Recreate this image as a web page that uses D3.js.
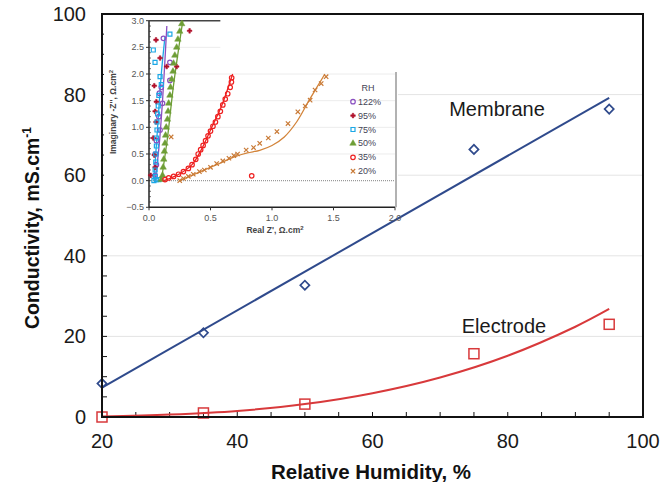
<!DOCTYPE html>
<html><head><meta charset="utf-8">
<script src="https://cdn.jsdelivr.net/npm/d3@7"></script>
<style>body{margin:0;background:#fff}svg{display:block;font-family:"Liberation Sans",Arial,sans-serif}</style>
</head><body><svg id="c" width="672" height="482"></svg>
<script>
// ---------- main chart data ----------
const rhValues = [20, 35, 50, 75, 95];
const membraneCond = [8.3, 20.9, 32.7, 66.4, 76.4];
const electrodeCond = [0.0, 1.0, 3.2, 15.7, 23.0];
const membraneFitX = [20, 95];
const membraneFitY = [7.3, 79.2];
const electrodeFitX = [20, 30, 40, 50, 60, 70, 80, 90, 95];
const electrodeFitY = [0.1, 0.6, 1.5, 3.2, 5.9, 9.8, 15.2, 22.4, 26.8];
const xTicks = [20, 40, 60, 80, 100];
const yTicks = [0, 20, 40, 60, 80, 100];

// ---------- inset data (Nyquist) ----------
const insetLabels = ["122%", "95%", "75%", "50%", "35%", "20%"];
const rh122 = [[0.117,2.67],[0.17,2.22],[0.17,1.88],[0.11,1.45],[0.085,1.64],[0.1,1.75],[0.08,1.2],[0.09,0.95],[0.06,0.75],[0.05,0.5],[0.06,0.3],[0.05,0.1]];
const rh95 = [[0.057,2.64],[0.09,2.3],[0.144,2.14],[0.225,2.14],[0.33,2.81],[0.043,1.78],[0.06,1.48],[0.05,1.3],[0.057,1.1],[0.035,0.8],[0.043,0.48],[0.014,0.1],[0.05,0.25]];
const rh75 = [[0.035,2.45],[0.049,2.22],[0.17,2.75],[0.09,1.95],[0.1,1.8],[0.08,1.6],[0.075,1.4],[0.07,1.25],[0.065,1.1],[0.065,0.95],[0.06,0.8],[0.06,0.65],[0.055,0.5],[0.055,0.35],[0.05,0.2],[0.05,0.08],[0.04,0.0],[0.06,0.02],[0.08,0.02]];
const rh50 = [[0.10,0.02],[0.11,0.1],[0.115,0.25],[0.12,0.4],[0.125,0.55],[0.13,0.7],[0.135,0.85],[0.14,1.0],[0.15,1.15],[0.155,1.3],[0.16,1.45],[0.17,1.6],[0.175,1.75],[0.185,1.9],[0.195,2.05],[0.2,2.2],[0.21,2.35],[0.225,2.5],[0.235,2.65],[0.25,2.8],[0.266,2.94]];
const rh35 = [[0.13,0.02],[0.16,0.05],[0.2,0.08],[0.24,0.12],[0.28,0.17],[0.32,0.23],[0.35,0.3],[0.38,0.4],[0.4,0.5],[0.42,0.58],[0.44,0.66],[0.46,0.75],[0.48,0.84],[0.5,0.93],[0.52,1.02],[0.54,1.1],[0.56,1.2],[0.58,1.3],[0.6,1.42],[0.62,1.53],[0.64,1.63],[0.66,1.75],[0.67,1.85],[0.672,1.93],[0.835,0.09]];
const rh20 = [[0.25,0.0],[0.28,0.04],[0.32,0.08],[0.36,0.12],[0.41,0.17],[0.45,0.2],[0.5,0.25],[0.55,0.32],[0.6,0.37],[0.65,0.42],[0.69,0.47],[0.72,0.5],[0.79,0.575],[0.85,0.62],[0.9,0.7],[0.97,0.8],[1.04,0.92],[1.13,1.07],[1.21,1.29],[1.27,1.4],[1.31,1.51],[1.35,1.7],[1.40,1.82],[1.44,1.95],[0.18,0.82]];
const fit122 = [[0.05,0],[0.08,0.6],[0.11,1.5],[0.145,2.9]];
const fit75 = [[0.04,0],[0.07,1.0],[0.1,2.0],[0.13,2.7]];
const fit50 = [[0.1,0],[0.15,0.8],[0.2,1.8],[0.275,3.0]];
const fit35 = [[0.12,0],[0.25,0.13],[0.35,0.3],[0.43,0.6],[0.51,1.0],[0.59,1.4],[0.68,2.0]];
const fit20 = [[0.25,0],[0.4,0.15],[0.55,0.3],[0.7,0.45],[0.8,0.52],[0.9,0.57],[1.0,0.66],[1.1,0.82],[1.2,1.1],[1.3,1.5],[1.43,2.0]];
const insetXTicks = [0, 0.5, 1.0, 1.5, 2.0];
const insetYTicks = [-0.5, 0, 0.5, 1.0, 1.5, 2.0, 2.5, 3.0];

const svg = d3.select("#c");

// ---------- main scales ----------
const x = d3.scaleLinear().domain([20, 100]).range([102, 643]);
const y = d3.scaleLinear().domain([0, 100]).range([417, 14]);

// gridlines
svg.append("g").selectAll("line").data(yTicks.filter(d => d > 0 && d < 100)).join("line")
  .attr("x1", x(20)).attr("x2", x(100)).attr("y1", d => y(d)).attr("y2", d => y(d))
  .attr("stroke", "#e4e4e4").attr("stroke-width", 1);

// minor ticks (inside)
svg.append("g").selectAll("line").data(d3.range(25, 100, 5)).join("line")
  .attr("x1", d => x(d)).attr("x2", d => x(d)).attr("y1", y(0)).attr("y2", y(0) - 5)
  .attr("stroke", "#111").attr("stroke-width", 1);
svg.append("g").selectAll("line").data(d3.range(5, 100, 5)).join("line")
  .attr("x1", x(20)).attr("x2", x(20) + 5).attr("y1", d => y(d)).attr("y2", d => y(d))
  .attr("stroke", "#111").attr("stroke-width", 1);

// tick labels
svg.append("g").selectAll("text").data(xTicks).join("text")
  .attr("x", d => x(d)).attr("y", 448).attr("text-anchor", "middle")
  .attr("font-size", 20).attr("fill", "#1a1a1a").text(d => d);
svg.append("g").selectAll("text").data(yTicks).join("text")
  .attr("x", 86).attr("y", d => y(d) + 7).attr("text-anchor", "end")
  .attr("font-size", 20).attr("fill", "#1a1a1a").text(d => d);

// axis titles
svg.append("text").attr("x", 371).attr("y", 479).attr("text-anchor", "middle")
  .attr("font-size", 20.5).attr("font-weight", "bold").attr("fill", "#111").text("Relative Humidity, %");
svg.append("text").attr("transform", "translate(39,228) rotate(-90)").attr("text-anchor", "middle")
  .attr("font-size", 19.5).attr("font-weight", "bold").attr("fill", "#111")
  .html('Conductivity, mS.cm<tspan dy="-8" font-size="12">-1</tspan>');

// fit lines
svg.append("path").datum(membraneFitX.map((v, i) => [v, membraneFitY[i]]))
  .attr("d", d3.line().x(d => x(d[0])).y(d => y(d[1])))
  .attr("fill", "none").attr("stroke", "#2f4a8c").attr("stroke-width", 2);
svg.append("path").datum(electrodeFitX.map((v, i) => [v, electrodeFitY[i]]))
  .attr("d", d3.line().x(d => x(d[0])).y(d => y(d[1])).curve(d3.curveCatmullRom))
  .attr("fill", "none").attr("stroke", "#d8393b").attr("stroke-width", 2);

// markers
svg.append("g").selectAll("path").data(rhValues).join("path")
  .attr("d", d3.symbol(d3.symbolSquare, 42))
  .attr("transform", (d, i) => `translate(${x(d)},${y(membraneCond[i])}) rotate(45)`)
  .attr("fill", "none").attr("stroke", "#2f4a8c").attr("stroke-width", 1.7);
svg.append("g").selectAll("rect").data(rhValues).join("rect")
  .attr("x", d => x(d) - 5).attr("y", (d, i) => y(electrodeCond[i]) - 5)
  .attr("width", 10).attr("height", 10)
  .attr("fill", "none").attr("stroke", "#d8393b").attr("stroke-width", 1.5);

// series labels
svg.append("text").attr("x", 497).attr("y", 116).attr("text-anchor", "middle")
  .attr("font-size", 20).attr("fill", "#1a1a1a").text("Membrane");
svg.append("text").attr("x", 504).attr("y", 333).attr("text-anchor", "middle")
  .attr("font-size", 20).attr("fill", "#1a1a1a").text("Electrode");

// ---------- inset ----------
const ix = d3.scaleLinear().domain([0, 2]).range([149, 395]);
const iy = d3.scaleLinear().domain([-0.5, 3]).range([207.3, 20.7]);
const ins = svg.append("g");
ins.append("rect").attr("x", 104).attr("y", 16).attr("width", 294).attr("height", 196).attr("fill", "#fff");
ins.append("rect").attr("x", 104).attr("y", 212).attr("width", 232).attr("height", 28).attr("fill", "#fff");

// inset gridlines
ins.append("g").selectAll("line").data([0.5, 1.0, 1.5, 2.0, 2.5]).join("line")
  .attr("x1", ix(0)).attr("x2", d => d > 2 ? ix(0.58) : ix(2)).attr("y1", d => iy(d)).attr("y2", d => iy(d))
  .attr("stroke", "#ececec").attr("stroke-width", 1);
ins.append("line").attr("x1", ix(0)).attr("x2", ix(2)).attr("y1", iy(0)).attr("y2", iy(0))
  .attr("stroke", "#9a9a9a").attr("stroke-width", 1.2).attr("stroke-dasharray", "1,1");

// inset axes
ins.append("line").attr("x1", ix(0)).attr("x2", ix(0)).attr("y1", iy(3)).attr("y2", iy(-0.5)).attr("stroke", "#222").attr("stroke-width", 1.5);
ins.append("line").attr("x1", ix(0)).attr("x2", ix(2)).attr("y1", iy(-0.5)).attr("y2", iy(-0.5)).attr("stroke", "#222").attr("stroke-width", 1.5);
ins.append("line").attr("x1", ix(0)).attr("x2", ix(0.58)).attr("y1", iy(3)).attr("y2", iy(3)).attr("stroke", "#444").attr("stroke-width", 1.5);
ins.append("line").attr("x1", ix(2) + 1).attr("x2", ix(2) + 1).attr("y1", iy(2.0) - 2).attr("y2", iy(-0.5)).attr("stroke", "#999").attr("stroke-width", 1.5);
ins.append("g").selectAll("line").data(d3.range(-0.4, 3.0, 0.1)).join("line")
  .attr("x1", ix(0)).attr("x2", ix(0) + 2).attr("y1", d => iy(d)).attr("y2", d => iy(d))
  .attr("stroke", "#333").attr("stroke-width", 0.7);
ins.append("g").selectAll("line").data(insetYTicks).join("line")
  .attr("x1", ix(0) - 3).attr("x2", ix(0)).attr("y1", d => iy(d)).attr("y2", d => iy(d))
  .attr("stroke", "#333").attr("stroke-width", 1);
ins.append("g").selectAll("line").data(insetXTicks).join("line")
  .attr("x1", d => ix(d)).attr("x2", d => ix(d)).attr("y1", iy(-0.5)).attr("y2", iy(-0.5) + 3)
  .attr("stroke", "#333").attr("stroke-width", 1);

ins.append("g").selectAll("text").data(insetYTicks).join("text")
  .attr("x", ix(0) - 5).attr("y", d => iy(d) + 3).attr("text-anchor", "end")
  .attr("font-size", 9).attr("fill", "#555").text(d => d3.format(".1f")(d));
ins.append("g").selectAll("text").data(insetXTicks).join("text")
  .attr("x", d => ix(d)).attr("y", iy(-0.5) + 14).attr("text-anchor", "middle")
  .attr("font-size", 9).attr("fill", "#555").text(d => d3.format(".1f")(d));
ins.append("text").attr("x", 275).attr("y", 233).attr("text-anchor", "middle")
  .attr("font-size", 8.5).attr("font-weight", "bold").attr("fill", "#444")
  .html('Real Z\', Ω.cm<tspan dy="-3" font-size="6">2</tspan>');
ins.append("text").attr("transform", "translate(116,112) rotate(-90)").attr("text-anchor", "middle")
  .attr("font-size", 8.5).attr("font-weight", "bold").attr("fill", "#444")
  .html('Imaginary -Z\'\', Ω.cm<tspan dy="-3" font-size="6">2</tspan>');

// inset fits
const fits = [[fit122, "#8a4fc0"], [fit75, "#1ca8e6"], [fit50, "#6e9e36"], [fit35, "#ee2020"], [fit20, "#d3843a"]];
fits.forEach(([data, col]) => {
  ins.append("path").datum(data).attr("d", d3.line().x(d => ix(d[0])).y(d => iy(d[1])).curve(d3.curveCatmullRom))
    .attr("fill", "none").attr("stroke", col).attr("stroke-width", 1.3);
});

const insetSeries = [
  {data: rh122, color: "#8a4fc0", sym: d3.symbolCircle, size: 16, fill: false},
  {data: rh95, color: "#b0102a", sym: d3.symbolCross, size: 12, fill: true},
  {data: rh75, color: "#1ca8e6", sym: d3.symbolSquare, size: 16, fill: false},
  {data: rh50, color: "#6e9e36", sym: d3.symbolTriangle, size: 18, fill: true},
  {data: rh35, color: "#ee2020", sym: d3.symbolCircle, size: 16, fill: false},
  {data: rh20, color: "#c97a36", sym: d3.symbolTimes, size: 14, fill: false}
];
insetSeries.forEach(s => {
  ins.append("g").selectAll("path").data(s.data).join("path")
    .attr("d", d3.symbol(s.sym, s.size))
    .attr("transform", d => `translate(${ix(d[0])},${iy(d[1])})`)
    .attr("fill", s.fill ? s.color : "none").attr("stroke", s.color).attr("stroke-width", s.fill ? 0.5 : 1.2);
});

// inset legend
ins.append("text").attr("x", 368).attr("y", 91).attr("text-anchor", "middle")
  .attr("font-size", 9).attr("fill", "#445").text("RH");
const lg = ins.append("g").selectAll("g").data(insetSeries).join("g")
  .attr("transform", (d, i) => `translate(353,${101.7 + i * 13.9})`);
lg.append("path").attr("d", d => d3.symbol(d.sym, d.size)())
  .attr("fill", d => d.fill ? d.color : "none").attr("stroke", d => d.color).attr("stroke-width", d => d.fill ? 0.5 : 1.2);
lg.append("text").attr("x", 5).attr("y", 3).attr("font-size", 9).attr("fill", "#445")
  .text((d, i) => insetLabels[i]);

// frame (on top)
svg.append("rect").attr("x", x(20)).attr("y", y(100)).attr("width", x(100) - x(20)).attr("height", y(0) - y(100))
  .attr("fill", "none").attr("stroke", "#111").attr("stroke-width", 2);
</script></body></html>
